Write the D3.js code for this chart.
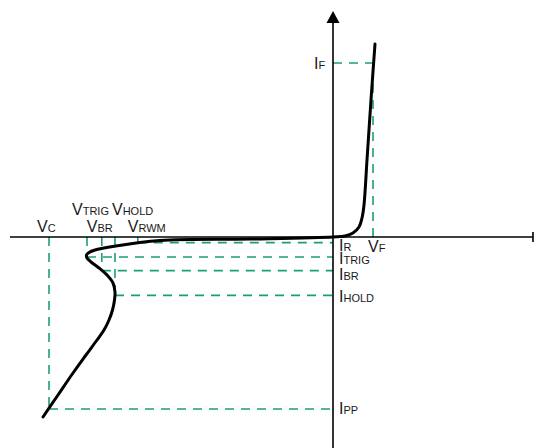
<!DOCTYPE html>
<html>
<head>
<meta charset="utf-8">
<script src="https://cdn.jsdelivr.net/npm/d3@7"></script>
<style>
  body { margin: 0; background: #fff; }
  text { font-family: "Liberation Sans", Arial, sans-serif; fill: #1a1a1a; }
</style>
</head>
<body>
<div id="chart"></div>
<script>
var width = 534;
var height = 448;

// reverse side guide levels (arbitrary units, origin at 0)
var vNames = ["C", "TRIG", "BR", "HOLD", "RWM"];
var vLevels = [-7.1, -6.15, -5.78, -5.45, -4.88];
var iNames = ["PP", "TRIG", "BR", "HOLD", "R"];
var iLevels = [-4.3, -0.5, -0.84, -1.46, -0.14];

// forward side
var fNames = ["F"];
var fVolts = [1.0];
var fCurrents = [4.35];

// I-V curve of the device, from clamp point up to forward conduction
var curveV = [-7.25, -6.875, -6.5, -6.175, -5.9, -5.725, -5.6, -5.5125, -5.4625, -5.45,
  -5.5, -5.65, -5.85, -6.05, -6.15, -6.1625, -6.1, -5.95, -5.5, -4.325, -2.075,
  0, 0.3, 0.5, 0.65, 0.725, 0.775, 0.85, 0.95, 1.05];
var curveI = [-4.5, -3.95, -3.4, -2.95, -2.575, -2.325, -2.075, -1.825, -1.575, -1.375,
  -1.15, -0.95, -0.775, -0.625, -0.525, -0.45, -0.3875, -0.325, -0.2375, -0.0875, -0.05,
  0, 0.025, 0.1, 0.25, 0.475, 0.8, 1.925, 3.425, 4.825];

var x = d3.scaleLinear().domain([-8.1, 5]).range([9, 533]);
var y = d3.scaleLinear().domain([5.6, -5.3]).range([13, 449]);

var svg = d3.select("#chart")
  .append("svg")
  .attr("width", width)
  .attr("height", height);

var green = "#1b9e77";
var dash = "9,7";

var guides = svg.append("g")
  .attr("stroke", green)
  .attr("stroke-width", 1.6)
  .attr("stroke-dasharray", dash)
  .attr("fill", "none");

// reverse guides: each V level pairs with the I level in the same slot
vLevels.forEach(function (v, k) {
  var i = iLevels[k];
  guides.append("line")
    .attr("x1", x(v)).attr("y1", y(0))
    .attr("x2", x(v)).attr("y2", y(i));
  guides.append("line")
    .attr("x1", x(v)).attr("y1", y(i))
    .attr("x2", x(0)).attr("y2", y(i));
});

// forward guides
fVolts.forEach(function (v, k) {
  var i = fCurrents[k];
  guides.append("line")
    .attr("x1", x(v)).attr("y1", y(0))
    .attr("x2", x(v)).attr("y2", y(i));
  guides.append("line")
    .attr("x1", x(0)).attr("y1", y(i))
    .attr("x2", x(v)).attr("y2", y(i));
});

// axes
var axes = svg.append("g").attr("stroke", "#000").attr("stroke-width", 1.6);
axes.append("line")
  .attr("x1", x.range()[0] + 1).attr("y1", y(0))
  .attr("x2", x.range()[1]).attr("y2", y(0));
axes.append("line")
  .attr("x1", x.range()[1]).attr("y1", y(0) - 5)
  .attr("x2", x.range()[1]).attr("y2", y(0) + 5);
axes.append("line")
  .attr("x1", x(0)).attr("y1", 22)
  .attr("x2", x(0)).attr("y2", height);
svg.append("path")
  .attr("d", "M" + x(0) + ",11 L" + (x(0) + 6.5) + ",23 L" + (x(0) - 6.5) + ",23 Z")
  .attr("fill", "#000");

// curve
var pts = curveV.map(function (v, k) { return [v, curveI[k]]; });
var line = d3.line()
  .x(function (d) { return x(d[0]); })
  .y(function (d) { return y(d[1]); })
  .curve(d3.curveCatmullRom.alpha(0.5));

svg.append("path")
  .datum(pts)
  .attr("d", line)
  .attr("fill", "none")
  .attr("stroke", "#000")
  .attr("stroke-width", 3)
  .attr("stroke-linecap", "round")
  .attr("stroke-linejoin", "round");

function label(px, py, main, sub) {
  var t = svg.append("text").attr("x", px).attr("y", py);
  t.append("tspan").attr("font-size", 16).text(main);
  t.append("tspan").attr("font-size", 11).text(sub);
}

// V labels: [dx from guide, baseline]
var vPlace = [[-12, 232], [-15, 215], [-15, 232], [-3, 215], [-10, 232]];
vNames.forEach(function (n, k) {
  label(x(vLevels[k]) + vPlace[k][0], vPlace[k][1], "V", n);
});

// I labels sit to the right of the vertical axis
var iDy = [5, 7, 9, 7, 8];
iNames.forEach(function (n, k) {
  label(x(0) + 6, y(iLevels[k]) + iDy[k], "I", n);
});

fNames.forEach(function (n, k) {
  label(x(fVolts[k]) - 5, y(0) + 15, "V", n);
  label(x(0) - 19, y(fCurrents[k]) + 6, "I", n);
});
</script>
</body>
</html>
